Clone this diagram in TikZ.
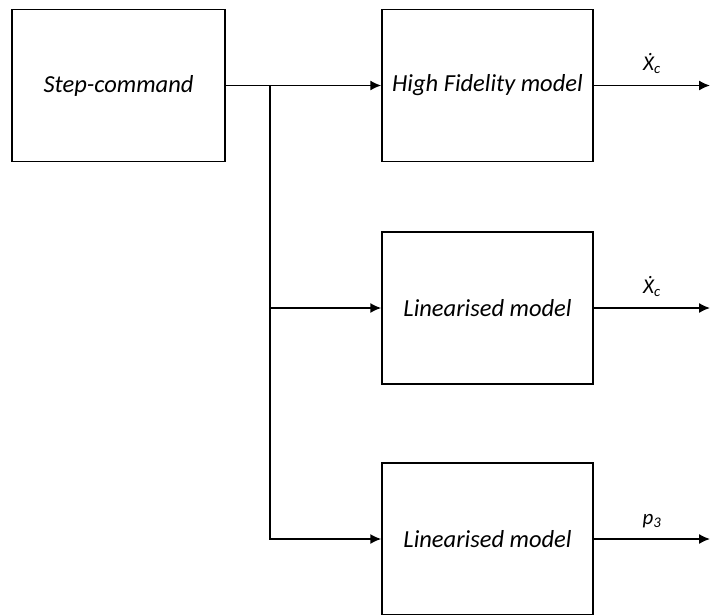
\documentclass[tikz,border=0pt]{standalone}
\usepackage{fontspec}
\setmainfont{Carlito}
\usetikzlibrary{arrows.meta}
\begin{document}
\begin{tikzpicture}[x=1pt,y=-1pt,
  block/.style={draw, line width=1.5pt, minimum width=211pt, minimum height=152pt,
    inner sep=0pt, font=\fontsize{24.5}{28}\selectfont\itshape},
  link/.style={line width=1.5pt},
  flow/.style={link, -{Latex[length=11pt,width=10pt]}},
  sig/.style={font=\fontsize{21}{24}\selectfont\itshape, inner sep=0pt, anchor=base, yshift=15pt}]
  \useasboundingbox (0,0) rectangle (710,614);

  % blocks
  \node[block, minimum width=213pt] (step) at (118.5,85.5) {Step-command};
  \node[block] (hf)   at (487.5,85.5) {High Fidelity model};
  \node[block] (lin1) at (487.5,308)  {Linearised model};
  \node[block] (lin2) at (487.5,539)  {Linearised model};

  % branch point and output ends
  \coordinate (split) at (270,85.5);
  \coordinate (out1) at (710,85.5);
  \coordinate (out2) at (710,308);
  \coordinate (out3) at (710,539);

  % input distribution
  \draw[flow] (step.east) -- (hf.west);
  \draw[flow] (split) |- (lin1.west);
  \draw[flow] (split) |- (lin2.west);

  % outputs
  \draw[flow] (hf.east) -- node[sig] (l1) {Ẋ\textsubscript{c}} (out1);
  \draw[flow] (lin1.east) -- node[sig] (l2) {Ẋ\textsubscript{c}} (out2);
  \draw[flow] (lin2.east) -- node[sig] (l3) {p\textsubscript{3}} (out3);
\end{tikzpicture}
\end{document}
